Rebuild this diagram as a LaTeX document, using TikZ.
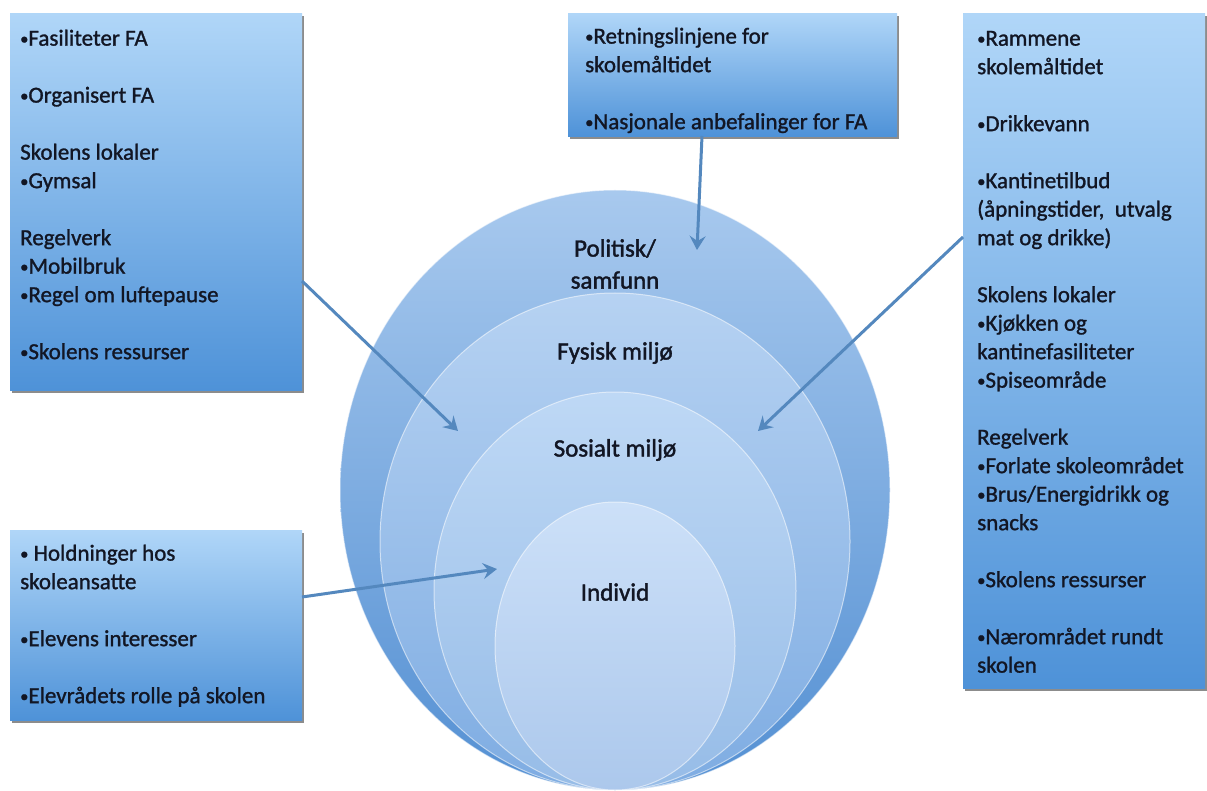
\documentclass[tikz,border=0pt]{standalone}
\usepackage{fontspec}
\usepackage{graphicx}
\setmainfont{Carlito}
\newfontfamily\heavy{Carlito}[FakeBold=1.2]
\newfontfamily\heavier{Carlito}[FakeBold=1.6]
\usetikzlibrary{arrows.meta,shadows,shapes.geometric}
\definecolor{boxtop}{RGB}{176,214,248}
\definecolor{boxbot}{RGB}{78,146,216}
\definecolor{ringAt}{RGB}{168,201,238}
\definecolor{ringAb}{RGB}{84,144,211}
\definecolor{ringBt}{RGB}{182,210,242}
\definecolor{ringBb}{RGB}{126,172,226}
\definecolor{ringCt}{RGB}{190,216,245}
\definecolor{ringCb}{RGB}{150,188,231}
\definecolor{ringDt}{RGB}{204,224,248}
\definecolor{ringDb}{RGB}{172,200,236}
\definecolor{arrowc}{RGB}{84,136,190}
\definecolor{txt}{RGB}{18,22,36}
\newcommand{\boxfont}{\heavy\fontsize{23}{28.5}\selectfont}
\newcommand{\lblfont}{\heavier\fontsize{25}{32}\selectfont}
\newcommand{\bul}{\raisebox{0.12ex}{\scalebox{0.72}{•}}}
\tikzset{
  infobox/.style={anchor=north west, inner sep=0, draw=none,
    top color=boxtop, bottom color=boxbot,
    drop shadow={shadow xshift=1.5pt, shadow yshift=-3pt, opacity=.45, fill=black}},
  boxtxt/.style={anchor=north west, inner sep=0, align=left, font=\boxfont, text=txt},
  ringnode/.style={ellipse, inner sep=0, draw=white, draw opacity=.55, line width=1pt},
  lbl/.style={inner sep=0, align=center, font=\lblfont, text=txt},
  arr/.style={draw=arrowc, line width=3pt, -{Stealth[length=14pt,width=16pt,inset=5pt]}}
}
\begin{document}
\begin{tikzpicture}[x=1pt,y=-1pt]
\useasboundingbox (0,0) rectangle (1207,791);
\fill[white] (0,0) rectangle (1207,791);
% rings
\node[ringnode, minimum width=550, minimum height=600, top color=ringAt, bottom color=ringAb] (outer) at (615,490) {};
\node[ringnode, minimum width=470, minimum height=497, top color=ringBt, bottom color=ringBb] (fys) at (615,541.5) {};
\node[ringnode, minimum width=362, minimum height=398, top color=ringCt, bottom color=ringCb] (sos) at (615,591) {};
\node[ringnode, minimum width=240, minimum height=288, top color=ringDt, bottom color=ringDb] (ind) at (615,646) {};
\node[lbl] (lpol) at (615,264) {Politisk/\\samfunn};
\node[lbl] (lfys) at (615,353) {Fysisk miljø};
\node[lbl] (lsos) at (615,450) {Sosialt miljø};
\node[lbl] (lind) at (615,592) {Individ};
% boxes
\node[infobox, minimum width=292, minimum height=377] (lbox) at (10,13) {};
\node[infobox, minimum width=329, minimum height=123] (mbox) at (568,13) {};
\node[infobox, minimum width=242, minimum height=675] (rbox) at (963,13) {};
\node[infobox, minimum width=292, minimum height=190] (bbox) at (10,530) {};
\node[boxtxt] (ltxt) at (20,25.5) {\strut\bul Fasiliteter FA\\[28.5pt]\bul Organisert FA\\[28.5pt]Skolens lokaler\\\bul Gymsal\\[28.5pt]Regelverk\\\bul Mobilbruk\\\bul Regel om luftepause\\[28.5pt]\bul Skolens ressurser};
\node[boxtxt] (mtxt) at (585,23.5) {\strut\bul Retningslinjene for\\skolemåltidet\\[28.5pt]\bul Nasjonale anbefalinger for FA};
\node[boxtxt] (rtxt) at (977,25.5) {\strut\bul Rammene\\skolemåltidet\\[28.5pt]\bul Drikkevann\\[28.5pt]\bul Kantinetilbud\\(åpningstider, \ utvalg\\mat og drikke)\\[28.5pt]Skolens lokaler\\\bul Kjøkken og\\kantinefasiliteter\\\bul Spiseområde\\[28.5pt]Regelverk\\\bul Forlate skoleområdet\\\bul Brus/Energidrikk og\\snacks\\[28.5pt]\bul Skolens ressurser\\[28.5pt]\bul Nærområdet rundt\\skolen};
\node[boxtxt] (btxt) at (20,540.5) {\strut\bul\ Holdninger hos\\skoleansatte\\[28.5pt]\bul Elevens interesser\\[28.5pt]\bul Elevrådets rolle på skolen};
% arrows
\coordinate (lA) at (302,281);
\coordinate (lB) at (458,431);
\coordinate (rA) at (963,237);
\coordinate (rB) at (758,431);
\coordinate (mA) at (702,136);
\coordinate (mB) at (697,250);
\coordinate (bA) at (302,597);
\coordinate (bB) at (497,569);
\draw[arr] (lA) -- (lB);
\draw[arr] (rA) -- (rB);
\draw[arr] (mA) -- (mB);
\draw[arr] (bA) -- (bB);
\end{tikzpicture}
\end{document}
